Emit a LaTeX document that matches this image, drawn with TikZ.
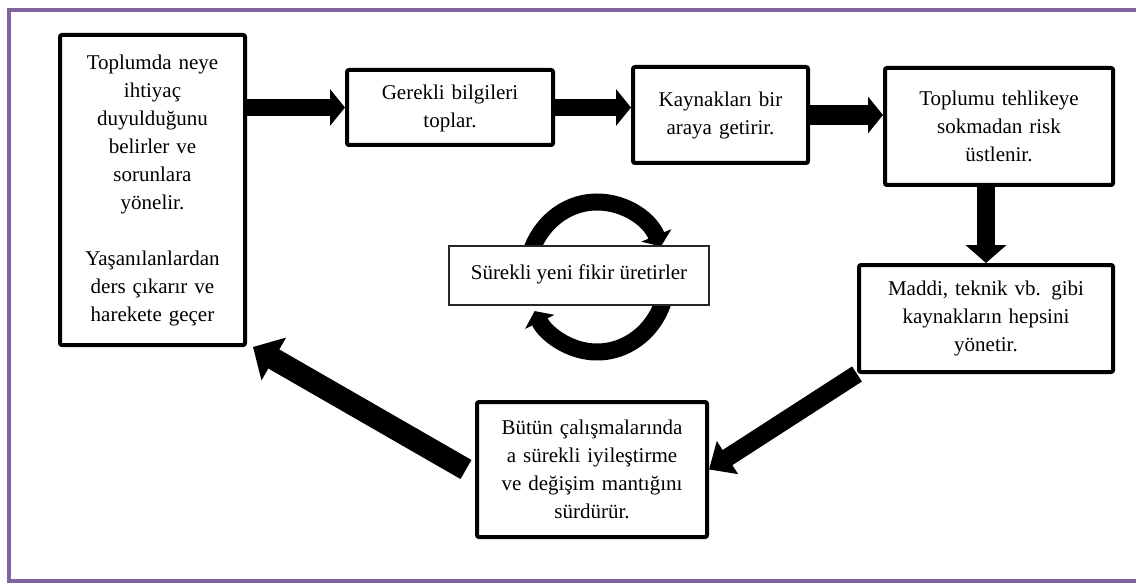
\documentclass[tikz,border=0pt]{standalone}
\usepackage{fontspec}
\setmainfont{Liberation Serif}
\usetikzlibrary{arrows.meta}
\definecolor{framepurple}{HTML}{8064A2}
\begin{document}
\begin{tikzpicture}[x=1pt,y=-1pt,
  txt/.style={font=\fontsize{21}{28}\selectfont, align=center, inner sep=0pt},
  box/.style={txt, draw=black, line width=4pt, rounded corners=2pt, fill=white},
  thinbox/.style={txt, draw=black!85, line width=1.2pt, fill=white},
  blockarr/.style={line width=17pt, -{Triangle[width=36pt,length=15pt]}},
  cyclearr/.style={line width=17pt, -{Triangle[width=32pt,length=12pt]}}
]
\useasboundingbox (0,0) rectangle (1136,583);
\draw[line width=4pt, draw=framepurple] (1150,10) -- (8.5,10) -- (8.5,581) -- (1150,581);

\node[box, minimum width=185pt, minimum height=310pt, text width=180pt] (b1) at (152.5,190)
  {Toplumda neye\\ihtiyaç\\duyulduğunu\\belirler ve\\sorunlara\\yönelir.\\[28pt]Yaşanılanlardan\\ders çıkarır ve\\harekete geçer};
\node[box, minimum width=206pt, minimum height=75pt, text width=200pt] (b2) at (450,107.5)
  {\raisebox{6pt}{\begin{tabular}{@{}c@{}}Gerekli bilgileri\\toplar.\end{tabular}}};
\node[box, minimum width=175pt, minimum height=96pt, text width=170pt] (b3) at (720.5,115)
  {\raisebox{6pt}{\begin{tabular}{@{}c@{}}Kaynakları bir\\araya getirir.\end{tabular}}};
\node[box, minimum width=228pt, minimum height=117pt, text width=220pt] (b4) at (999,126.5)
  {Toplumu tehlikeye\\sokmadan risk\\üstlenir.};
\node[box, minimum width=254pt, minimum height=107pt, text width=248pt] (b5) at (986,318.5)
  {Maddi, teknik vb. gibi\\kaynakların hepsini\\yönetir.};
\node[box, minimum width=230pt, minimum height=135pt, text width=226pt] (b6) at (592,469.5)
  {Bütün çalışmalarında\\a sürekli iyileştirme\\ve değişim mantığını\\sürdürür.};

\coordinate (cyc) at (597,277);
\draw[cyclearr] (cyc) ++(185:70pt and 75pt) arc[start angle=185, end angle=24, x radius=70pt, y radius=75pt];
\draw[cyclearr] (cyc) ++(-10:70pt and 75pt) arc[start angle=-10, end angle=-153, x radius=70pt, y radius=75pt];
\node[thinbox, minimum width=260pt, minimum height=59pt] (c) at (579,275.5)
  {\raisebox{7pt}{Sürekli yeni fikir üretirler}};

\draw[blockarr] (b1.east |- b2.west) -- (b2.west);
\draw[blockarr] (b2.east) -- (b3.west |- b2.east);
\draw[blockarr, line width=20pt] (b3.east) -- (b4.west |- b3.east);
\draw[line width=18pt, -{Triangle[width=40pt,length=18pt]}] (b4.south -| b5.north) -- (b5.north);
\draw[line width=18pt, -{Triangle[width=38pt,length=22pt]}] (b5.south west) -- (b6.east);
\draw[line width=22pt, -{Triangle[width=48pt,length=24pt]}] ([xshift=-9pt]b6.west) -- ([xshift=6pt]b1.south east);
\end{tikzpicture}
\end{document}
